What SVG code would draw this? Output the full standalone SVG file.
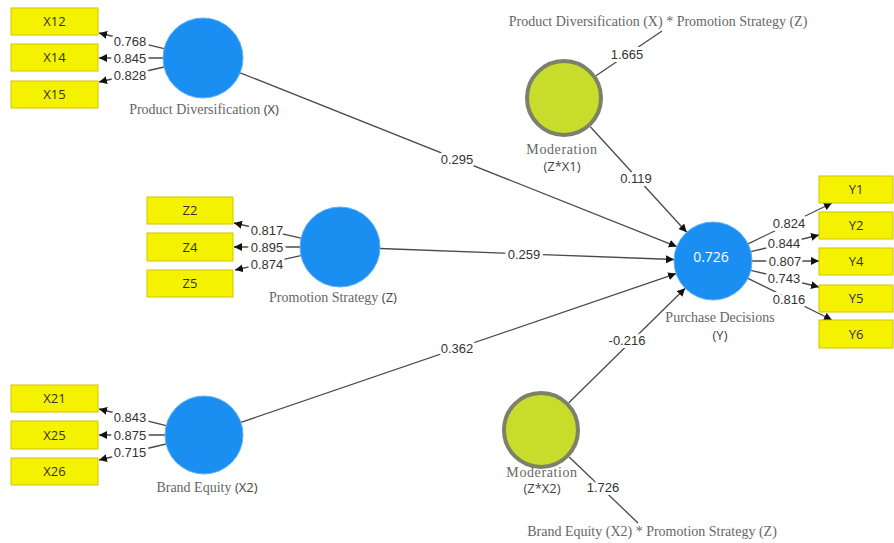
<svg xmlns="http://www.w3.org/2000/svg" width="894" height="543" viewBox="0 0 894 543">
<style>
.bg{fill:#ffffff}
.ln{stroke:#4a4a4a;stroke-width:1.3;fill:none}
.ar{marker-end:url(#ah)}
.lat{fill:#1b8ef2;stroke:#5fb0f7;stroke-width:1}
.mod{fill:#c8dc2b;stroke:#7c8169;stroke-width:4}
.box{fill:#f5f200;stroke:#cfc600;stroke-width:1}
.bt{font-family:"Open Sans","DejaVu Sans",sans-serif;font-size:13px;fill:#333;text-anchor:middle}
.n{font-family:"Liberation Sans",Arial,sans-serif;font-size:13px;fill:#333;text-anchor:middle;stroke:#fff;stroke-width:6;stroke-linejoin:round;paint-order:stroke}
.lb{font-family:"Liberation Serif","Times New Roman",serif;font-size:14px;fill:#666;text-anchor:middle}
.md{letter-spacing:0.6px}
.ls{font-family:"Open Sans","DejaVu Sans",sans-serif;font-size:13px;fill:#444}
.r2{font-family:"Open Sans","DejaVu Sans",sans-serif;font-size:14px;fill:#ffffff;text-anchor:middle}
</style>
<defs>
<marker id="ah" markerUnits="userSpaceOnUse" markerWidth="9" markerHeight="8" refX="8" refY="4" orient="auto">
<path d="M0,0 L8,4 L0,8 z" fill="#111"/>
</marker>
</defs>
<rect class="bg" x="0" y="0" width="894" height="543"/>

<g id="connectors">
<!-- PD loadings -->
<line class="ln ar" x1="164.1" y1="48.7" x2="99" y2="33"/>
<line class="ln ar" x1="163" y1="58" x2="99" y2="58"/>
<line class="ln ar" x1="164" y1="67" x2="99" y2="82"/>
<!-- PS loadings -->
<line class="ln ar" x1="301" y1="238.2" x2="234" y2="223"/>
<line class="ln ar" x1="300" y1="247" x2="234" y2="247"/>
<line class="ln ar" x1="300.9" y1="255.6" x2="235" y2="270"/>
<!-- BE loadings -->
<line class="ln ar" x1="166.2" y1="425.6" x2="99" y2="409"/>
<line class="ln ar" x1="165" y1="435" x2="99" y2="435"/>
<line class="ln ar" x1="166" y1="444" x2="99" y2="460"/>
<!-- Y loadings -->
<line class="ln ar" x1="748.1" y1="243.9" x2="832" y2="203"/>
<line class="ln ar" x1="750.9" y1="251.7" x2="819" y2="235"/>
<line class="ln ar" x1="752" y1="261" x2="819" y2="261"/>
<line class="ln ar" x1="750.9" y1="270.3" x2="819" y2="287"/>
<line class="ln ar" x1="747.9" y1="278.3" x2="832" y2="320"/>
<!-- structural paths -->
<line class="ln ar" x1="240.2" y1="72.8" x2="676.8" y2="246.6"/>
<line class="ln ar" x1="380" y1="248.5" x2="674" y2="259.5"/>
<line class="ln ar" x1="240.9" y1="422.4" x2="676.1" y2="273.6"/>
<line class="ln ar" x1="590.3" y1="126.8" x2="686.7" y2="232.2"/>
<line class="ln ar" x1="568.8" y1="402.7" x2="685.2" y2="288.3"/>
<!-- moderation indicators -->
<line class="ln" x1="596" y1="75.8" x2="662" y2="31"/>
<line class="ln" x1="569.2" y1="457" x2="638" y2="523"/>

<!-- labels -->
<text class="n" x="130" y="45.5">0.768</text>
<text class="n" x="130" y="62.5">0.845</text>
<text class="n" x="130" y="79.5">0.828</text>
<text class="n" x="267" y="234.5">0.817</text>
<text class="n" x="267" y="251.5">0.895</text>
<text class="n" x="267" y="268.5">0.874</text>
<text class="n" x="130" y="422">0.843</text>
<text class="n" x="130" y="439.5">0.875</text>
<text class="n" x="130" y="457">0.715</text>
<text class="n" x="789" y="228">0.824</text>
<text class="n" x="784" y="248">0.844</text>
<text class="n" x="785" y="265.5">0.807</text>
<text class="n" x="784" y="283">0.743</text>
<text class="n" x="789" y="303.5">0.816</text>
<text class="n" x="457" y="163.5">0.295</text>
<text class="n" x="524" y="258.5">0.259</text>
<text class="n" x="457" y="353">0.362</text>
<text class="n" x="636" y="183">0.119</text>
<text class="n" x="627" y="345">-0.216</text>
<text class="n" x="627" y="59">1.665</text>
<text class="n" x="603" y="492">1.726</text>
</g>

<g id="X12"><rect class="box" x="11" y="8" width="87" height="27"/><text class="bt" x="54.5" y="26">X12</text></g>
<g id="X14"><rect class="box" x="11" y="44" width="87" height="27"/><text class="bt" x="54.5" y="62">X14</text></g>
<g id="X15"><rect class="box" x="11" y="81" width="87" height="27"/><text class="bt" x="54.5" y="99">X15</text></g>

<g id="Z2"><rect class="box" x="147" y="197" width="86" height="27"/><text class="bt" x="190" y="215">Z2</text></g>
<g id="Z4"><rect class="box" x="147" y="233" width="86" height="28"/><text class="bt" x="190" y="251.5">Z4</text></g>
<g id="Z5"><rect class="box" x="147" y="270" width="86" height="27"/><text class="bt" x="190" y="288">Z5</text></g>

<g id="X21"><rect class="box" x="11" y="385" width="87" height="27"/><text class="bt" x="54.5" y="403">X21</text></g>
<g id="X25"><rect class="box" x="11" y="421" width="87" height="28"/><text class="bt" x="54.5" y="439.5">X25</text></g>
<g id="X26"><rect class="box" x="11" y="458" width="87" height="27"/><text class="bt" x="54.5" y="476">X26</text></g>

<g id="Y1"><rect class="box" x="819" y="176" width="74" height="27"/><text class="bt" x="856" y="194">Y1</text></g>
<g id="Y2"><rect class="box" x="819" y="212" width="74" height="27"/><text class="bt" x="856" y="230">Y2</text></g>
<g id="Y4"><rect class="box" x="819" y="248" width="74" height="27"/><text class="bt" x="856" y="266">Y4</text></g>
<g id="Y5"><rect class="box" x="819" y="285" width="74" height="27"/><text class="bt" x="856" y="303">Y5</text></g>
<g id="Y6"><rect class="box" x="819" y="320" width="74" height="28"/><text class="bt" x="856" y="338.5">Y6</text></g>

<g id="PD">
<circle class="lat" cx="203" cy="58" r="40"/>
<text class="lb" x="204" y="114">Product Diversification <tspan class="ls">(X)</tspan></text>
</g>
<g id="PS">
<circle class="lat" cx="340" cy="247" r="40"/>
<text class="lb" x="333" y="302">Promotion Strategy <tspan class="ls">(Z)</tspan></text>
</g>
<g id="BE">
<circle class="lat" cx="204" cy="435" r="39"/>
<text class="lb" x="207" y="492">Brand Equity <tspan class="ls">(X2)</tspan></text>
</g>
<g id="PurchaseDecisions">
<circle class="lat" cx="713" cy="261" r="39"/>
<text class="r2" x="711" y="262">0.726</text>
<text class="lb" x="720" y="322">Purchase Decisions</text>
<text class="ls" x="720" y="340" text-anchor="middle">(Y)</text>
</g>
<g id="Moderation1">
<circle class="mod" cx="564" cy="98" r="37"/>
<text class="lb md" x="562" y="154">Moderation</text>
<text class="ls" x="562" y="171" text-anchor="middle">(Z*X1)</text>
</g>
<g id="Moderation2">
<circle class="mod" cx="541" cy="430" r="37"/>
<text class="lb md" x="542" y="477">Moderation</text>
<text class="ls" x="542" y="493" text-anchor="middle">(Z*X2)</text>
</g>
<g id="Indicator1">
<text class="lb" x="658" y="26">Product Diversification (X) * Promotion Strategy (Z)</text>
</g>
<g id="Indicator2">
<text class="lb" x="652" y="536">Brand Equity (X2) * Promotion Strategy (Z)</text>
</g>
</svg>
